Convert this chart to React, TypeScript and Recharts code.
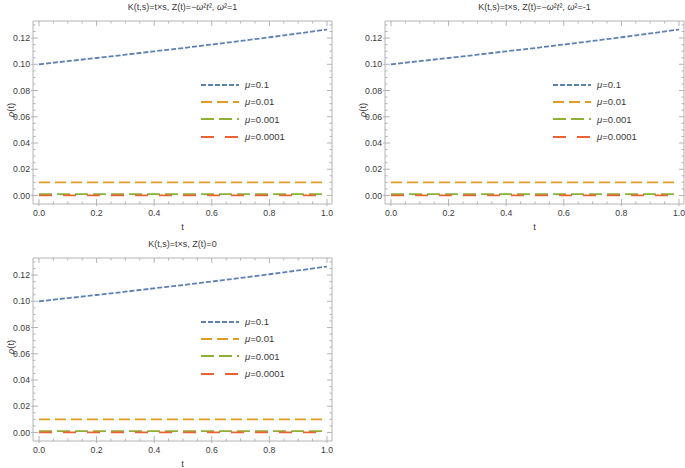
import React from 'react';
import { LineChart, Line, XAxis, YAxis, Legend } from 'recharts';

const tValues = [0, 0.1, 0.2, 0.3, 0.4, 0.5, 0.6, 0.7, 0.8, 0.9, 1.0];
const rhoMu1 = [0.1, 0.1024, 0.1048, 0.1073, 0.1099, 0.1124, 0.1151, 0.1178, 0.1206, 0.1235, 0.1265];
const rhoMu2 = [0.01, 0.01, 0.01, 0.01, 0.01, 0.01, 0.01, 0.01, 0.01, 0.01, 0.01];
const rhoMu3 = [0.001, 0.001, 0.001, 0.001, 0.001, 0.001, 0.001, 0.001, 0.001, 0.001, 0.001];
const rhoMu4 = [0.0001, 0.0001, 0.0001, 0.0001, 0.0001, 0.0001, 0.0001, 0.0001, 0.0001, 0.0001, 0.0001];

const muLabels = ['0.1', '0.01', '0.001', '0.0001'];
const seriesKeys = ['m1', 'm2', 'm3', 'm4'];
const colors = ['#5E81B5', '#E19C24', '#8FB032', '#EB6235'];
const dashes = ['5 2', '11 5', '13 5', '13 11'];

const xTicks = [0, 0.05, 0.1, 0.15, 0.2, 0.25, 0.3, 0.35, 0.4, 0.45, 0.5, 0.55, 0.6, 0.65, 0.7, 0.75, 0.8, 0.85, 0.9, 0.95, 1.0];
const yTicks = [0, 0.005, 0.01, 0.015, 0.02, 0.025, 0.03, 0.035, 0.04, 0.045, 0.05, 0.055, 0.06, 0.065, 0.07, 0.075, 0.08, 0.085, 0.09, 0.095, 0.1, 0.105, 0.11, 0.115, 0.12, 0.125, 0.13];

const rows = tValues.map((t, i) => ({ t, m1: rhoMu1[i], m2: rhoMu2[i], m3: rhoMu3[i], m4: rhoMu4[i] }));

const FONT = '"Liberation Sans", Arial, sans-serif';
const FRAME = '#b4b4b4';
const LABEL = '#3a3a3a';
const TICK_FS = 8.7;
const W = 333;
const H = 231;
const X_DOMAIN: [number, number] = [-0.0208, 1.0174];
const Y_DOMAIN: [number, number] = [-0.0065, 0.133];

const isMajor = (v: number, step: number) => Math.abs(v / step - Math.round(v / step)) < 1e-6;

const BottomTick = (p: any) => {
  const v = p.payload.value;
  const major = isMajor(v, 0.2);
  return (
    <g>
      <line x1={p.x} x2={p.x} y1={p.y + (major ? 2 : 0)} y2={p.y - (major ? 5 : 2.5)} stroke={FRAME} />
      {major && (
        <text x={p.x} y={p.y + 12} textAnchor="middle" fontSize={TICK_FS} fontFamily={FONT} fill={LABEL}>
          {v.toFixed(1)}
        </text>
      )}
    </g>
  );
};

const TopTick = (p: any) => {
  const major = isMajor(p.payload.value, 0.2);
  return <line x1={p.x} x2={p.x} y1={p.y} y2={p.y + (major ? 5 : 2.5)} stroke={FRAME} />;
};

const LeftTick = (p: any) => {
  const v = p.payload.value;
  const major = isMajor(v, 0.02);
  return (
    <g>
      <line x1={p.x - (major ? 2 : 0)} x2={p.x + (major ? 5 : 2.5)} y1={p.y} y2={p.y} stroke={FRAME} />
      {major && (
        <text x={p.x - 3} y={p.y + 3.1} textAnchor="end" fontSize={TICK_FS} fontFamily={FONT} fill={LABEL}>
          {v.toFixed(2)}
        </text>
      )}
    </g>
  );
};

const RightTick = (p: any) => {
  const major = isMajor(p.payload.value, 0.02);
  return <line x1={p.x} x2={p.x - (major ? 5 : 2.5)} y1={p.y} y2={p.y} stroke={FRAME} />;
};

const LegendBox = () => (
  <div style={{ fontFamily: FONT, fontSize: 9.5, color: LABEL }}>
    {muLabels.map((mu, i) => (
      <div key={mu} style={{ height: 17.3, display: 'flex', alignItems: 'center' }}>
        <svg width={40} height={6} style={{ display: 'block' }}>
          <line x1={1} x2={39} y1={3} y2={3} stroke={colors[i]} strokeWidth={1.8} strokeDasharray={dashes[i]} />
        </svg>
        <span style={{ marginLeft: 5 }}>
          <i>μ</i>={mu}
        </span>
      </div>
    ))}
  </div>
);

const Panel = ({ left, top, title }: { left: number; top: number; title: React.ReactNode }) => (
  <div style={{ position: 'absolute', left, top, width: W, height: H }}>
    <div
      style={{
        position: 'absolute', left: 33, top: 1, width: 299, textAlign: 'center',
        fontFamily: FONT, fontSize: 9, color: LABEL, whiteSpace: 'nowrap', lineHeight: '12px',
      }}
    >
      {title}
    </div>
    <div
      style={{
        position: 'absolute', left: 11, top: 110, width: 24, height: 12, marginLeft: -12, marginTop: -6,
        transform: 'rotate(-90deg)', textAlign: 'center', lineHeight: '12px',
        fontFamily: FONT, fontSize: 9.5, color: LABEL, whiteSpace: 'nowrap',
      }}
    >
      <i>ρ</i>(t)
    </div>
    <div
      style={{
        position: 'absolute', left: 33, top: 222, width: 299, textAlign: 'center',
        fontFamily: FONT, fontSize: 9.5, color: LABEL, lineHeight: '10px',
      }}
    >
      t
    </div>
    <LineChart
      width={W} height={H} data={rows} margin={{ top: 0, right: 0, bottom: 0, left: 0 }}
      style={{ overflow: 'visible' }}
    >
      <XAxis
        dataKey="t" type="number" domain={X_DOMAIN} ticks={xTicks} interval={0} allowDataOverflow
        height={27} tickSize={0} tickMargin={0} tickLine={false} axisLine={{ stroke: FRAME }} tick={BottomTick}
      />
      <XAxis
        xAxisId="top" orientation="top" dataKey="t" type="number" domain={X_DOMAIN} ticks={xTicks} interval={0}
        allowDataOverflow height={21} tickSize={0} tickMargin={0} tickLine={false} axisLine={{ stroke: FRAME }} tick={TopTick}
      />
      <YAxis
        type="number" domain={Y_DOMAIN} ticks={yTicks} interval={0} allowDataOverflow width={33}
        tickSize={0} tickMargin={0} tickLine={false} axisLine={{ stroke: FRAME }} tick={LeftTick}
      />
      <YAxis
        yAxisId="right" orientation="right" type="number" domain={Y_DOMAIN} ticks={yTicks} interval={0}
        allowDataOverflow width={1} tickSize={0} tickMargin={0} tickLine={false} axisLine={{ stroke: FRAME }} tick={RightTick}
      />
      {seriesKeys.map((k, i) => (
        <Line
          key={k} dataKey={k} type="monotone" stroke={colors[i]} strokeWidth={1.8}
          strokeDasharray={dashes[i]} dot={false} isAnimationActive={false}
        />
      ))}
      <Legend
        layout="horizontal" verticalAlign="middle" align="center"
        wrapperStyle={{ left: 200, top: 76, width: 130 }} content={() => <LegendBox />}
      />
    </LineChart>
  </div>
);

const title = (omega: string | null) => (
  <span>
    K(t,s)=t×s, Z(t)={omega === null ? '0' : (
      <>
        −<i>ω</i>²<i>t</i>², <i>ω</i>²={omega}
      </>
    )}
  </span>
);

export default function App() {
  return (
    <div style={{ position: 'absolute', left: 0, top: 0, width: 685, height: 468, overflow: 'hidden', background: '#fff' }}>
      <Panel left={0} top={0} title={title('1')} />
      <Panel left={352} top={0} title={title('-1')} />
      <Panel left={0} top={237} title={title(null)} />
    </div>
  );
}
